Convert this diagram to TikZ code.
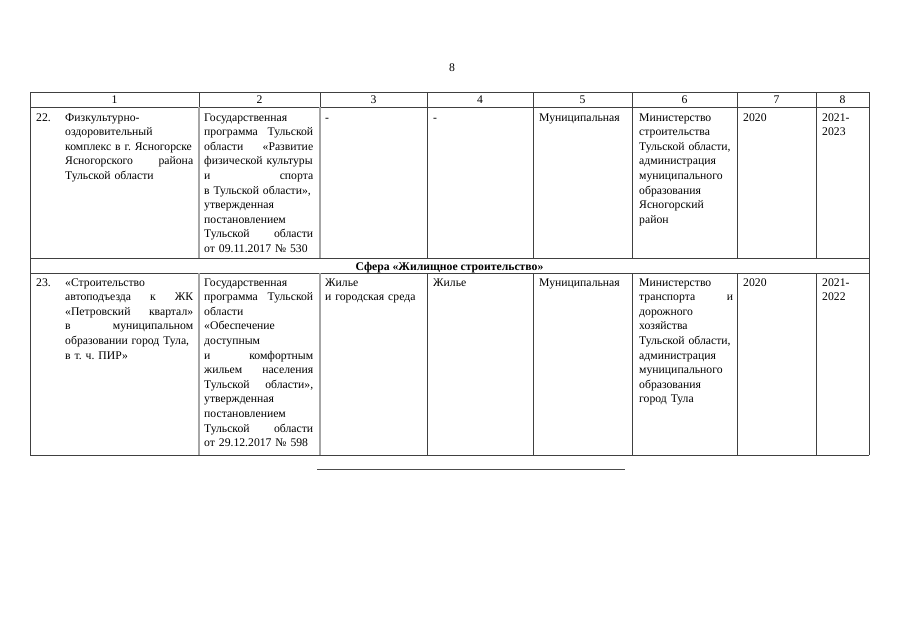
\documentclass[tikz,border=0pt]{standalone}
\usepackage{fontspec}
\setmainfont{Liberation Serif}
\newcommand{\cellfont}{\fontsize{11.7}{14.6}\selectfont\frenchspacing}

\begin{document}
\begin{tikzpicture}[x=1pt,y=-1pt,
  tbl/.style={draw=black!75,line width=0.9pt},
  tblsoft/.style={draw=black!35,line width=1.6pt},
  cell/.style={anchor=base west,inner sep=0pt,align=left,font=\cellfont},
  head/.style={anchor=base,inner sep=0pt,font=\cellfont}]
\useasboundingbox (0,0) rectangle (905,640);

\node[head] (page) at (452,71.7) {8};

% grid of the table
\foreach \y in {92,107,258,273,455}
  \draw[tbl] (30,\y) -- (869,\y);
\draw[tbl] (30,92) -- (30,455);
\draw[tbl] (869,92) -- (869,455);
\foreach \x in {427,533,632,737,816} {
  \draw[tbl] (\x,92) -- (\x,258);
  \draw[tbl] (\x,273) -- (\x,455);
}
\foreach \x in {199,320} {
  \draw[tbl] (\x,92) -- (\x,107);
  \draw[tblsoft] (\x,107) -- (\x,258);
  \draw[tblsoft] (\x,273) -- (\x,455);
}

% column numbers
\foreach \n/\x in {1/114.5,2/259.5,3/373.5,4/480,5/582.5,6/684.5,7/776.5,8/842.5}
  \node[head] (h\n) at (\x,103.5) {\n};

% row 22
\node[cell] (n22) at (36,121) {22.};
\node[cell,text width=128pt] (a22) at (65,121) {Физкультурно-\\
оздоровительный\\
\mbox{комплекс в г. Ясногорске}\\
Ясногорского\hfill района\\
Тульской области};
\node[cell,text width=109pt] (b22) at (204,121) {Государственная\\
программа\hfill Тульской\\
области\hfill «Развитие\\
\mbox{физической культуры}\\
и\hfill спорта\\
\mbox{в Тульской области»,}\\
утвержденная\\
постановлением\\
Тульской\hfill области\\
\mbox{от 09.11.2017 № 530}};
\node[cell] (c22) at (325,121) {-};
\node[cell] (d22) at (433,121) {-};
\node[cell] (e22) at (539,121) {Муниципальная};
\node[cell,text width=94pt] (f22) at (639,121) {Министерство\\
строительства\\
\mbox{Тульской области,}\\
администрация\\
муниципального\\
образования\\
Ясногорский\\
район};
\node[cell] (g22) at (743,121) {2020};
\node[cell,text width=40pt] (k22) at (822,121) {2021-\\2023};

% sphere title
\node[head,font=\cellfont\bfseries] (sph) at (449.5,270.5) {Сфера «Жилищное строительство»};

% row 23
\node[cell] (n23) at (36,286) {23.};
\node[cell,text width=128pt] (a23) at (65,286) {«Строительство\\
автоподъезда\hfill к\hfill ЖК\\
«Петровский\hfill квартал»\\
в\hfill муниципальном\\
\mbox{образовании город Тула,}\\
в т. ч. ПИР»};
\node[cell,text width=109pt] (b23) at (204,286) {Государственная\\
программа\hfill Тульской\\
области\\
«Обеспечение\\
доступным\\
и\hfill комфортным\\
жильем\hfill населения\\
Тульской\hfill области»,\\
утвержденная\\
постановлением\\
Тульской\hfill области\\
\mbox{от 29.12.2017 № 598}};
\node[cell,text width=100pt] (c23) at (325,286) {Жилье\\и городская среда};
\node[cell] (d23) at (433,286) {Жилье};
\node[cell] (e23) at (539,286) {Муниципальная};
\node[cell,text width=94pt] (f23) at (639,286) {Министерство\\
транспорта\hfill и\\
дорожного\\
хозяйства\\
\mbox{Тульской области,}\\
администрация\\
муниципального\\
образования\\
город Тула};
\node[cell] (g23) at (743,286) {2020};
\node[cell,text width=40pt] (k23) at (822,286) {2021-\\2022};

% closing rule
\draw[draw=black!70,line width=0.9pt] (317,469) -- (625,469);

\end{tikzpicture}
\end{document}
